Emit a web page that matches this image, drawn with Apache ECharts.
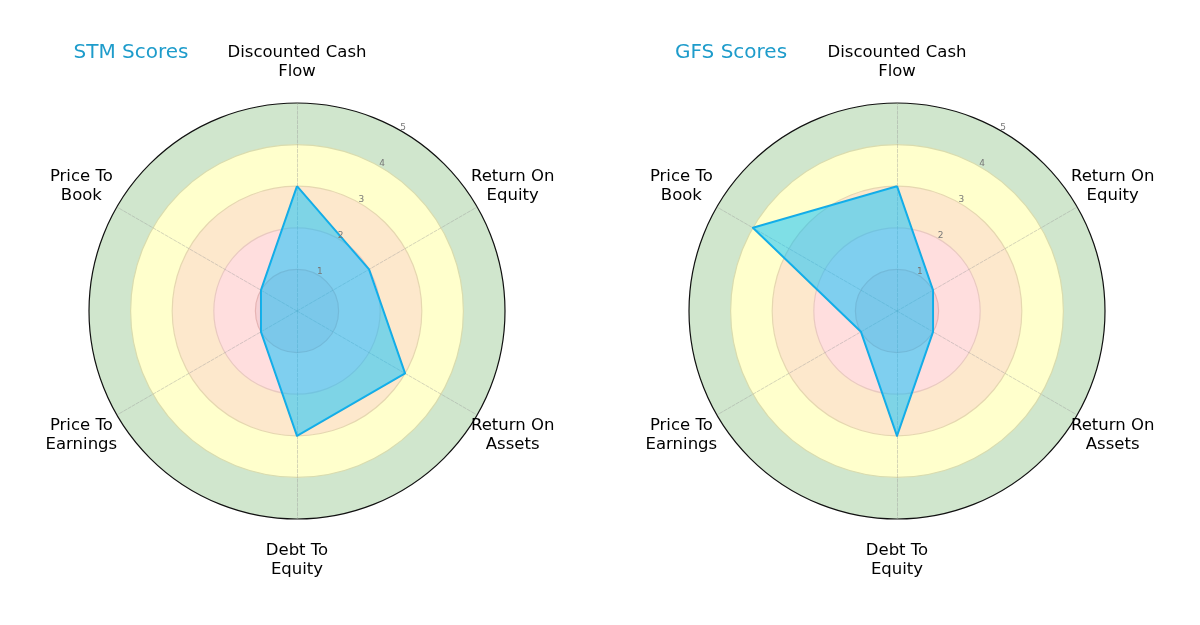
<!DOCTYPE html>
<html>
<head>
<meta charset="utf-8">
<script src="https://cdn.jsdelivr.net/npm/echarts@6/dist/echarts.min.js"></script>
<style>
  html, body { margin: 0; background: #fff; }
  #main { width: 1200px; height: 625px; }
</style>
</head>
<body>
<div id="main"></div>
<script>
// indicators, counter-clockwise from the top
var metrics = ['Discounted Cash\nFlow', 'Price To\nBook', 'Price To\nEarnings', 'Debt To\nEquity', 'Return On\nAssets', 'Return On\nEquity'];
var stmScores = [3, 1, 1, 3, 3, 2];
var gfsScores = [3, 4, 1, 3, 1, 1];
var tickLabels = ['1', '2', '3', '4', '5'];
var titles = ['STM Scores', 'GFS Scores'];

// layout
var centersX = [297, 897];
var centerY = 311;
var radius = 208;
var nameRadius = 249;
var maxScore = 5;

var chart = echarts.init(document.getElementById('main'));

var radars = centersX.map(function (cx) {
  return {
    center: [cx, centerY],
    radius: radius,
    startAngle: 90,
    shape: 'circle',
    splitNumber: 5,
    indicator: metrics.map(function (m) { return { name: m, min: 0, max: maxScore }; }),
    axisName: { show: false },
    splitArea: {
      show: true,
      areaStyle: { color: ['#f6d0d4', '#ffdede', '#fde8cc', '#ffffcc', '#d0e6cd'] }
    },
    splitLine: {
      lineStyle: {
        color: ['#e8b8b8', '#e6b4b4', '#e9c9c0', '#e6d7b0', '#d9dcae', '#111'],
        width: 1.2
      }
    },
    axisLine: {
      lineStyle: { color: 'rgba(150,150,150,0.5)', type: 'dashed', width: 0.8 }
    }
  };
});

var series = [stmScores, gfsScores].map(function (scores, i) {
  return {
    type: 'radar',
    radarIndex: i,
    symbol: 'none',
    silent: true,
    lineStyle: { color: '#1ba8e0', width: 2 },
    areaStyle: { color: '#00bfff', opacity: 0.5 },
    data: [{ value: scores, name: titles[i] }]
  };
});

var graphics = [];
centersX.forEach(function (cx, ci) {
  graphics.push({
    type: 'text', x: cx - 166, y: 53, z: 100,
    style: { text: titles[ci], align: 'center', verticalAlign: 'middle',
      fontSize: 20, fontFamily: 'DejaVu Sans', fill: '#1e9ccb' }
  });
  metrics.forEach(function (m, i) {
    var a = (90 + i * 360 / metrics.length) * Math.PI / 180;
    graphics.push({
      type: 'text', z: 100,
      x: cx + nameRadius * Math.cos(a),
      y: centerY - nameRadius * Math.sin(a),
      style: { text: m, align: 'center', verticalAlign: 'middle', lineHeight: 19,
        fontSize: 16.5, fontFamily: 'DejaVu Sans', fill: '#000' }
    });
  });
  tickLabels.forEach(function (t, k) {
    var a = 60 * Math.PI / 180;
    var r = (k + 1) * radius / maxScore + 4;
    graphics.push({
      type: 'text', z: 100,
      x: cx + r * Math.cos(a),
      y: centerY - r * Math.sin(a),
      style: { text: t, align: 'center', verticalAlign: 'middle',
        fontSize: 9, fontFamily: 'DejaVu Sans', fill: '#777' }
    });
  });
});

chart.setOption({
  backgroundColor: '#fff',
  animation: false,
  radar: radars,
  series: series,
  graphic: graphics
});
</script>
</body>
</html>
